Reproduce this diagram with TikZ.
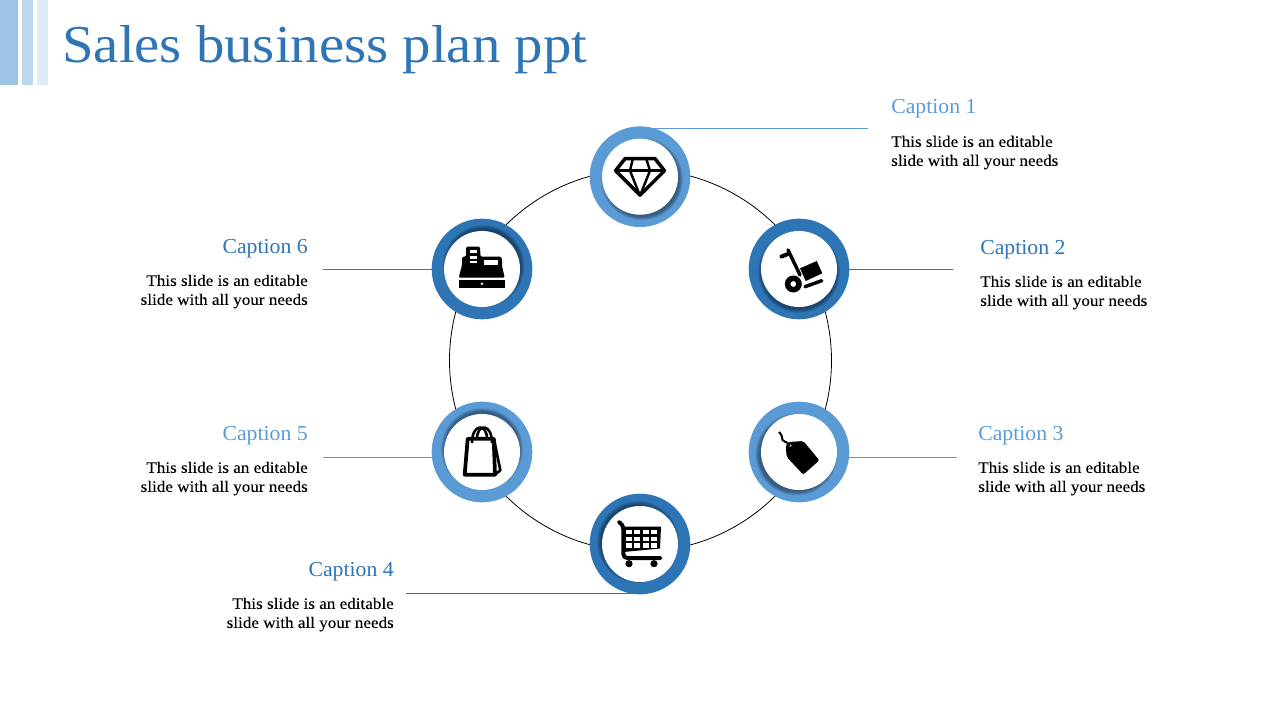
\documentclass[tikz,border=0pt]{standalone}
\usepackage{fontspec}
\setmainfont{Liberation Serif}
\newfontfamily\titlefont[FakeStretch=1.064]{Liberation Serif}
\newfontfamily\capfont[FakeStretch=1.02]{Liberation Serif}
\newfontfamily\bodyfont[FakeStretch=1.068,FakeBold=.1]{Liberation Serif}
\usetikzlibrary{backgrounds,calc}
\definecolor{lightblue}{HTML}{5B9BD5}
\definecolor{darkblue}{HTML}{2E75B6}
\tikzset{
    ring/.style={circle,inner sep=0pt,minimum size=75.5pt},
    disc/.style={circle,inner sep=0pt,minimum size=57pt,fill=white},
    hub/.style={circle,inner sep=0pt,minimum size=286.5pt,draw=black,line width=.6pt},
    leader/.style={line width=.6pt},
    captitle/.style={inner sep=0pt,anchor=base,font=\capfont\fontsize{16}{19}\selectfont},
    captext/.style={inner sep=0pt,font=\bodyfont\fontsize{12}{14.25}\selectfont}
}

\begin{document}
\begin{tikzpicture}[x=.75pt,y=-.75pt]
    \useasboundingbox (0,0) rectangle (1280,720);

    \fill[color=lightblue!60] (0,0) rectangle (18,85);
    \fill[color=lightblue!40] (22,0) rectangle (33,85);
    \fill[color=lightblue!20] (37,0) rectangle (48,85);
    \node [inner sep=0pt,anchor=base west,text=darkblue,font=\titlefont\fontsize{40}{48}\selectfont] (title) at (62,63) {Sales business plan ppt};

    \node [hub] (hub) at (640.5,360.5) {};

    % rings, with the shadow of each disc falling on its ring
    \foreach \i/\xx/\yy/\col/\sx/\sy in {1/640/176.7/lightblue/2/2.5,2/799/269/darkblue/0/3,3/799/452/lightblue/-2.5/2.5,4/640/544/darkblue/-2/-2,5/482/452/lightblue/0/-3,6/482/269/darkblue/1.5/-3} {
        \node [ring,fill=\col] (ring\i) at (\xx,\yy) {};
        \foreach \s in {5,4,3,2,1,0}
            \fill[black,opacity=.08] (\xx+\sx,\yy+\sy) circle (37.5+\s*.7);
        \node [disc] (disc\i) at (\xx,\yy) {};
    }

    % captions
    \foreach \i/\xx/\yy/\col in {1/891/114/lightblue,2/980/254/darkblue,3/978/440/lightblue} {
        \node [captitle,anchor=base west,text=\col] (cap\i) at (\xx,\yy) {Caption \i};
        \node [captext,anchor=north west,align=left] (txt\i) at (\xx,\yy+21.5) {This slide is an editable\\slide with all your needs};
    }
    \foreach \i/\xx/\yy/\col in {4/394/576/darkblue,5/308/440/lightblue,6/308/253/darkblue} {
        \node [captitle,anchor=base east,text=\col] (cap\i) at (\xx,\yy) {Caption \i};
        \node [captext,anchor=north east,align=right] (txt\i) at (\xx,\yy+21.5) {This slide is an editable\\slide with all your needs};
    }

    \coordinate (end1) at (868,128);
    \coordinate (end2) at (953,269);
    \coordinate (end3) at (957,457.5);
    \coordinate (end4) at (406,593.5);
    \coordinate (end5) at (323,457.5);
    \coordinate (end6) at (323,269);

    \begin{scope}[on background layer]
    \draw[leader,color=lightblue] (ring1 |- end1) -- (end1);
    \draw[leader,color=darkblue] (ring2 |- end2) -- (end2);
    \draw[leader,color=lightblue] (ring3 |- end3) -- (end3);
    \draw[leader,color=darkblue] (ring4 |- end4) -- (end4);
    \draw[leader,color=lightblue] (ring5 |- end5) -- (end5);
    \draw[leader,color=darkblue] (ring6 |- end6) -- (end6);
    \end{scope}

    % diamond
    \begin{scope}[shift={(disc1.center)},line join=round]
    \draw[line width=2.6pt] (-15,-18) -- (15,-18) -- (24.5,-6) -- (0,18.5) -- (-24.5,-6) -- cycle;
    \draw[line width=1.8pt] (-25,-6) -- (25,-6);
    \draw[line width=1.8pt] (-7,-18.7) -- (-10,-6) -- (0,19) -- (10,-6) -- (6,-18.7);
    \end{scope}

    % trolley
    \begin{scope}[shift={(disc2.center)}]
    \draw[line width=3pt,line cap=round,line join=round] (-17.5,-12.5) -- (-11,-15);
    \draw[line width=2.6pt,line cap=round] (-11,-19) -- (1,6);
    \fill (1,-.7) -- (17.7,-8) -- (23.3,4.3) -- (6.7,12) -- cycle;
    \draw[line width=2.6pt,line cap=round] (6,17.7) -- (22.7,11.7);
    \fill[even odd rule] (-5.7,15) circle (8.5) (-5.7,15) circle (3);
    \end{scope}

    % tag
    \begin{scope}[shift={(disc3.center)}]
    \fill[rounded corners=1.5pt,even odd rule] (-13.3,-6.7) -- (-10.7,-10) -- (4.3,-11) -- (20.3,8.3) -- (4.3,22.7) -- (-12.3,5) -- cycle (-9,-6.7) circle (1.7);
    \draw[line width=1.5pt] (-9,-6.7) .. controls (-12,-11) and (-18,-10) .. (-17,-15) .. controls (-16.5,-17) and (-19,-18) .. (-20,-20);
    \end{scope}

    % cart
    \begin{scope}[shift={(disc4.center)}]
    \fill (-16.7,-17.5) -- (21,-17.5) -- (20,4.5) -- (-16.7,8) -- cycle;
    \foreach \cx in {-14.3,-6,2.7,11}
        \foreach \cy in {-14,-7.3,-.7}
            \fill[white] (\cx,\cy) rectangle (\cx+6.2,\cy+4.4);
    \draw[line width=3pt,line cap=round,rounded corners=3pt] (-20.7,-21.7) -- (-16.7,-19.3) -- (-16.7,14) -- (20,14);
    \fill (-11,19.7) circle (3.6);
    \fill (14,19.7) circle (3.6);
    \end{scope}

    % bag
    \begin{scope}[shift={(disc5.center)},line join=round]
    \draw[line width=2.8pt] (-14.3,-13.3) -- (11.7,-13.3) -- (13,22.7) -- (-17.3,22.7) -- cycle;
    \draw[line width=2pt] (12,-13) -- (18.3,18.3) -- (13,22.7);
    \draw[line width=1.9pt] (-10,-9) .. controls (-10,-29) and (5,-29) .. (5,-13);
    \draw[line width=1.9pt] (-5,-13) .. controls (-5,-29) and (10,-29) .. (10,-9);
    \end{scope}

    % cash register
    \begin{scope}[shift={(disc6.center)}]
    \fill (-23.3,10.8) rectangle (22.7,18.7);
    \fill[white] (0,14.7) circle (1.4);
    \fill[rounded corners=1pt] (-23.3,8.7) -- (-20,-4) -- (-20,-12.3) -- (-16,-12.3) -- (-16,-22.3) -- (-2,-22.3) -- (-1.5,-12.3) -- (19,-12.3) -- (20,-10) -- (20,-3) -- (22.7,8.7) -- cycle;
    \foreach \cy/\ch in {-19/3.3,-13.3/3.3,-8.3/2.6}
        \fill[white] (-11.7,\cy) rectangle (-5,\cy+\ch);
    \fill[white] (2.3,-9) rectangle (16,-4);
    \end{scope}

\end{tikzpicture}
\end{document}
